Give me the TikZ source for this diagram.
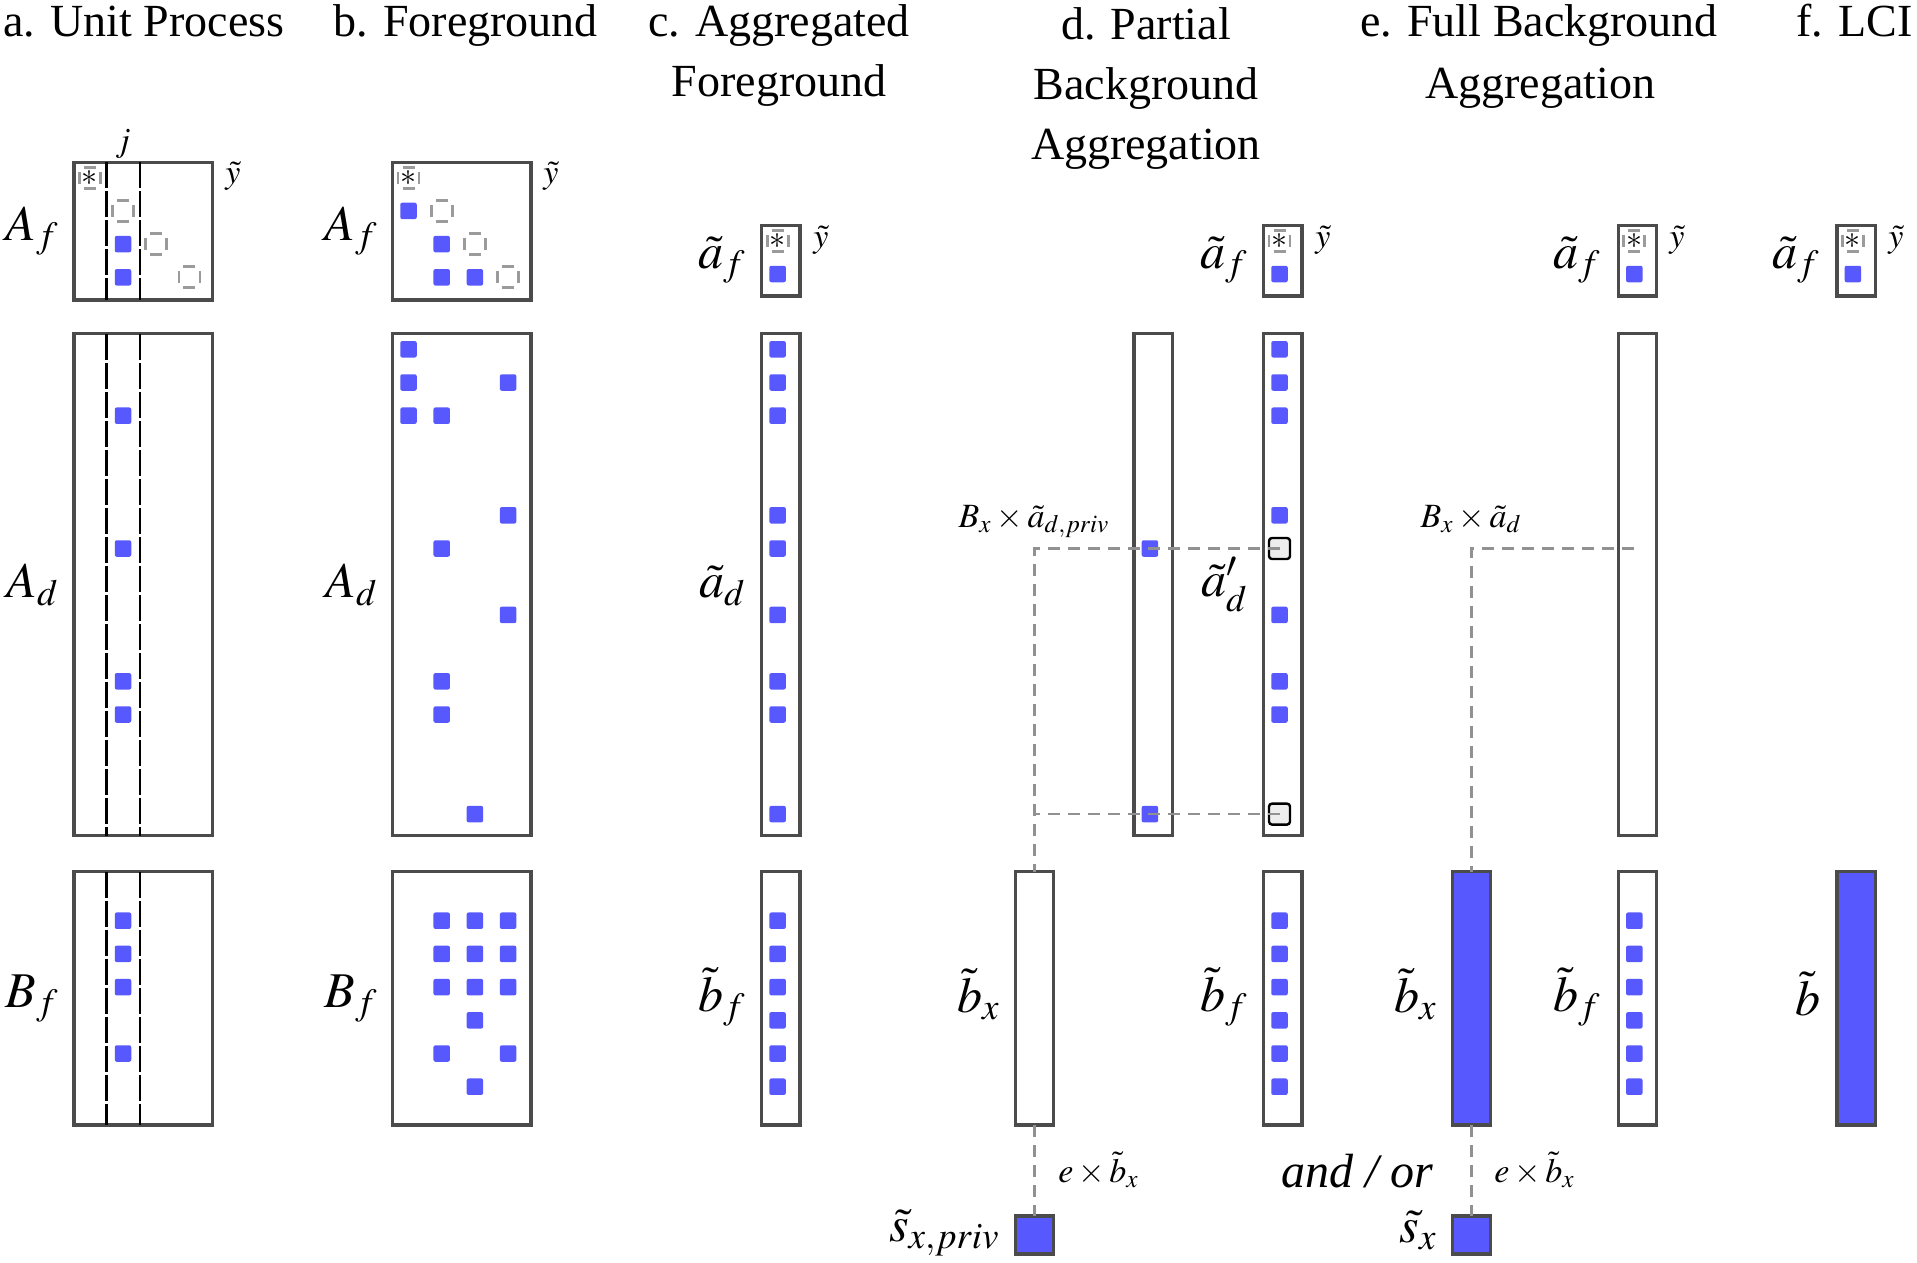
\documentclass[tikz,border=0pt]{standalone}
\usepackage{mathptmx}
\usepackage{fontspec}
\setmainfont{Liberation Serif}
\usepackage{tikz}
\usetikzlibrary{calc}
\usetikzlibrary{positioning}
\definecolor{blockblue}{RGB}{88,88,255}
\definecolor{framegray}{RGB}{75,75,75}
\definecolor{linkgray}{RGB}{145,145,145}
\definecolor{holegray}{RGB}{155,155,155}

\begin{document}
\begin{tikzpicture}[x=0.5pt, y=-0.5pt,
    mat/.style={draw=framegray, line width=1.6pt, fill=white, inner sep=0pt, outer sep=0pt, anchor=north west},
    matfull/.style={mat, fill=blockblue},
    entry/.style={fill=blockblue, rounded corners=1pt, minimum size=8.25pt, inner sep=0pt},
    hole/.style={draw=holegray, line width=1.4pt, minimum size=10.5pt, inner sep=0pt, dash pattern=on 6pt off 4.5pt, dash phase=8.25pt, font=\fontsize{16}{16}\selectfont},
    hit/.style={draw=black, fill=black!7, line width=1.2pt, rounded corners=1.5pt, minimum size=10.5pt, inner sep=0pt},
    link/.style={draw=linkgray, line width=1.1pt, dash pattern=on 6pt off 4pt},
    col/.style={draw=black, line width=1.1pt, dash pattern=on 13pt off 1.5pt},
    lab/.style={font=\fontsize{25}{30}\selectfont, inner sep=0pt, anchor=base east},
    note/.style={font=\fontsize{17}{20}\selectfont, inner sep=0pt},
    head/.style={font=\fontsize{23}{30}\selectfont, inner sep=0pt, anchor=base},
]
\useasboundingbox (0,0) rectangle (1917,1263);

% titles
\node[head, anchor=base west] (ta) at (3,37) {a. Unit Process};
\node[head, anchor=base west] (tb) at (333,37) {b. Foreground};
\node[head] (tc1) at (779,37) {c. Aggregated};
\node[head] (tc2) at (779,97) {Foreground};
\node[head] (td1) at (1146,40) {d. Partial};
\node[head] (td2) at (1146,100) {Background};
\node[head] (td3) at (1146,160) {Aggregation};
\node[head] (te1) at (1539,37) {e. Full Background};
\node[head] (te2) at (1540,98) {Aggregation};
\node[head, anchor=base west] (tf) at (1796,37) {f. LCI};

% a. unit process
\node[mat, minimum width=69.2pt, minimum height=68.85pt] (aAf) at (73.9,162.3) {};
\node[mat, minimum width=69.2pt, minimum height=251pt] (aAd) at (73.9,333.8) {};
\node[mat, minimum width=69.2pt, minimum height=126.65pt] (aBf) at (73.9,871.7) {};
\foreach \b in {aAf,aAd,aBf}
  \foreach \xx in {106.4,139.6}
    \draw[col] (\b.north -| \xx,0) -- (\b.south -| \xx,0);
\node[hole] (aAf-0-0) at (89.8,177.7) {$\ast$};
\foreach \r in {1,2,3}
  \node[hole] (aAf-\r-\r) at (89.8+33.2*\r,177.7+33.2*\r) {};
\foreach \r in {2,3}
  \node[entry] (aAf-\r-1) at (123,177.7+33.2*\r) {};
\foreach \r in {2,6,10,11}
  \node[entry] (aAd-\r-1) at (123,349.3+33.2*\r) {};
\foreach \r in {0,1,2,4}
  \node[entry] (aBf-\r-1) at (123,920.7+33.2*\r) {};
\node[lab] (aAfl) at (59,240) {$A_f$};
\node[lab] (aAdl) at (59,597) {$A_d$};
\node[lab] (aBfl) at (59,1007) {$B_f$};
\node[note, anchor=base west] (aY) at (225,184) {$\tilde y$};
\node[note, anchor=base] (aJ) at (123,152) {$j$};

% b. foreground
\node[mat, minimum width=69.2pt, minimum height=68.85pt] (bAf) at (392.6,162.3) {};
\node[mat, minimum width=69.2pt, minimum height=251pt] (bAd) at (392.6,333.8) {};
\node[mat, minimum width=69.2pt, minimum height=126.65pt] (bBf) at (392.6,871.7) {};
\node[hole] (bAf-0-0) at (408.5,177.7) {$\ast$};
\foreach \r in {1,2,3}
  \node[hole] (bAf-\r-\r) at (408.5+33.2*\r,177.7+33.2*\r) {};
\foreach \r/\c in {1/0,2/1,3/1,3/2}
  \node[entry] (bAf-\r-\c) at (408.5+33.2*\c,177.7+33.2*\r) {};
\foreach \r/\c in {0/0,1/0,1/3,2/0,2/1,5/3,6/1,8/3,10/1,11/1,14/2}
  \node[entry] (bAd-\r-\c) at (408.5+33.2*\c,349.3+33.2*\r) {};
\foreach \r/\c in {0/1,0/2,0/3,1/1,1/2,1/3,2/1,2/2,2/3,3/2,4/1,4/3,5/2}
  \node[entry] (bBf-\r-\c) at (408.5+33.2*\c,920.7+33.2*\r) {};
\node[lab] (bAfl) at (378,240) {$A_f$};
\node[lab] (bAdl) at (378,597) {$A_d$};
\node[lab] (bBfl) at (378,1007) {$B_f$};
\node[note, anchor=base west] (bY) at (543,184) {$\tilde y$};

% c. aggregated foreground
\node[mat, minimum width=19.15pt, minimum height=35.35pt] (caf) at (761.7,225.3) {};
\node[mat, minimum width=19.15pt, minimum height=251pt] (cad) at (761.7,333.8) {};
\node[mat, minimum width=19.15pt, minimum height=126.65pt] (cbf) at (761.7,871.7) {};
\node[hole] (caf-0) at (777.6,240.8) {$\ast$};
\node[entry] (caf-1) at (777.6,274) {};
\foreach \r in {0,1,2,5,6,8,10,11,14}
  \node[entry] (cad-\r) at (777.6,349.3+33.2*\r) {};
\foreach \r in {0,...,5}
  \node[entry] (cbf-\r) at (777.6,920.7+33.2*\r) {};
\node[lab] (cafl) at (746,268) {$\tilde a_f$};
\node[lab] (cadl) at (746,597) {$\tilde a_d$};
\node[lab] (cbfl) at (746,1011) {$\tilde b_f$};
\node[note, anchor=base west] (cY) at (813,247) {$\tilde y$};

% d. partial background aggregation
\node[mat, minimum width=19.15pt, minimum height=251pt] (dpriv) at (1134,333.8) {};
\node[entry] (dp6) at (1149.9,349.3+33.2*6) {};
\node[entry] (dp14) at (1149.9,349.3+33.2*14) {};
\node[mat, minimum width=18.8pt, minimum height=126.65pt] (dbx) at (1015.7,871.7) {};
\node[matfull, minimum width=18.8pt, minimum height=19pt] (dsx) at (1015.7,1216) {};
\node[lab] (dbxl) at (1000,1012) {$\tilde b_x$};
\node[lab] (dsxl) at (1000,1241) {$\tilde s_{x,priv}$};

\node[mat, minimum width=19.15pt, minimum height=35.35pt] (daf) at (1263.6,225.3) {};
\node[mat, minimum width=19.15pt, minimum height=251pt] (dad) at (1263.6,333.8) {};
\node[mat, minimum width=19.15pt, minimum height=126.65pt] (dbf) at (1263.6,871.7) {};
\node[hole] (daf-0) at (1279.5,240.8) {$\ast$};
\node[entry] (daf-1) at (1279.5,274) {};
\foreach \r in {0,1,2,5,8,10,11}
  \node[entry] (dad-\r) at (1279.5,349.3+33.2*\r) {};
\node[hit] (dh6) at (1279.5,349.3+33.2*6) {};
\node[hit] (dh14) at (1279.5,349.3+33.2*14) {};
\foreach \r in {0,...,5}
  \node[entry] (dbf-\r) at (1279.5,920.7+33.2*\r) {};
\node[lab] (dafl) at (1248,268) {$\tilde a_f$};
\node[lab] (dadl) at (1248,596) {$\tilde a'_d$};
\node[lab] (dbfl) at (1248,1011) {$\tilde b_f$};
\node[note, anchor=base west] (dY) at (1315,247) {$\tilde y$};

% e. full background aggregation
\node[matfull, minimum width=18.8pt, minimum height=126.65pt] (ebx) at (1452.6,871.7) {};
\node[matfull, minimum width=18.8pt, minimum height=19pt] (esx) at (1452.6,1216) {};
\node[lab] (ebxl) at (1437,1012) {$\tilde b_x$};
\node[lab] (esxl) at (1437,1242) {$\tilde s_x$};
\node[font=\fontsize{24}{28}\selectfont\itshape, inner sep=0pt, anchor=base] (andor) at (1357,1187) {and / or};

\node[mat, minimum width=19.15pt, minimum height=35.35pt] (eaf) at (1618.4,225.3) {};
\node[mat, minimum width=19.15pt, minimum height=251pt] (ead) at (1618.4,333.8) {};
\node[mat, minimum width=19.15pt, minimum height=126.65pt] (ebf) at (1618.4,871.7) {};
\node[hole] (eaf-0) at (1634.3,240.8) {$\ast$};
\node[entry] (eaf-1) at (1634.3,274) {};
\foreach \r in {0,...,5}
  \node[entry] (ebf-\r) at (1634.3,920.7+33.2*\r) {};
\coordinate (eh6) at (1634.3,349.3+33.2*6);
\node[lab] (eafl) at (1601,268) {$\tilde a_f$};
\node[lab] (ebfl) at (1601,1011) {$\tilde b_f$};
\node[note, anchor=base west] (eY) at (1669,247) {$\tilde y$};

% f. LCI
\node[mat, minimum width=19.15pt, minimum height=35.35pt] (faf) at (1837,225.3) {};
\node[matfull, minimum width=19.15pt, minimum height=126.65pt] (fb) at (1837,871.7) {};
\node[hole] (faf-0) at (1852.9,240.8) {$\ast$};
\node[entry] (faf-1) at (1852.9,274) {};
\node[lab] (fafl) at (1820,268) {$\tilde a_f$};
\node[lab] (fbl) at (1821,1015) {$\tilde b$};
\node[note, anchor=base west] (fY) at (1888,247) {$\tilde y$};

% links
\draw[link] (dh6.center) -- (dp6.center) -- (dp6 -| dbx.north) -- (dbx.north);
\draw[link] (dh14.center) -- (dp14.center) -- (dp14 -| dbx.north);
\draw[link] (dbx.south) -- (dsx.north);
\draw[link] (eh6) -- (eh6 -| ebx.north) -- (ebx.north);
\draw[link] (ebx.south) -- (esx.north);
\node[note, anchor=base] (dnote) at (1034,527) {$B_x\times\tilde a_{d,priv}$};
\node[note, anchor=base] (enote) at (1471,527) {$B_x\times\tilde a_d$};
\node[note, anchor=base west] (dsnote) at (1058,1182) {$e\times\tilde b_x$};
\node[note, anchor=base west] (esnote) at (1494,1182) {$e\times\tilde b_x$};
\end{tikzpicture}
\end{document}
